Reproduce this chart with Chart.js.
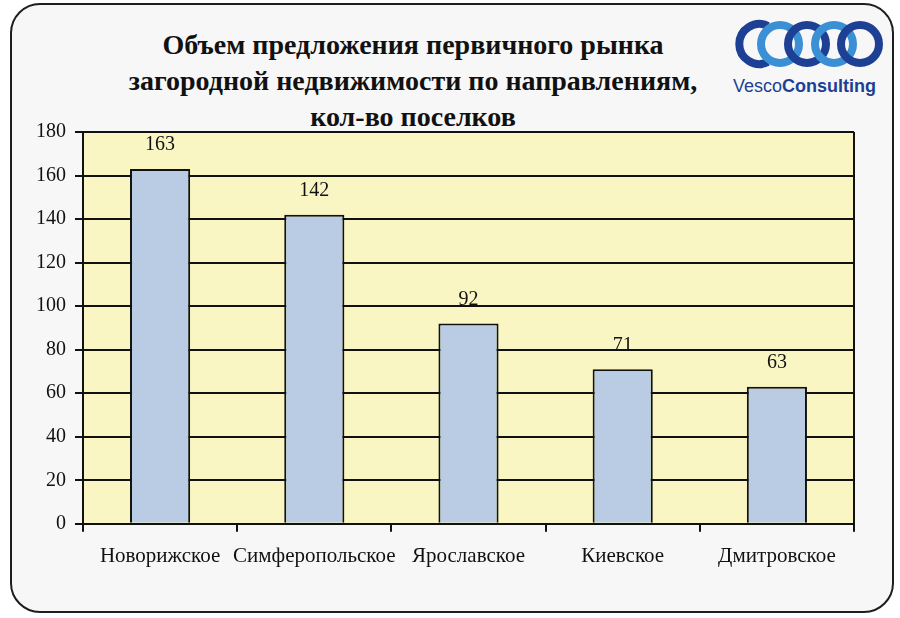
<!DOCTYPE html>
<html>
<head>
<meta charset="utf-8">
<script src="https://cdn.jsdelivr.net/npm/chart.js@4.4.0/dist/chart.umd.min.js"></script>
<style>
  html, body { margin: 0; padding: 0; background: #fff; }
  #wrap { position: relative; width: 900px; height: 618px; overflow: hidden; }
  #frame {
    position: absolute; left: 10px; top: 3px; width: 880px; height: 606px;
    border: 2px solid #1e1e1e; border-radius: 30px; background: #f7f7f7;
  }
  #title {
    position: absolute; left: 63px; width: 700px; top: 27px;
    text-align: center; font: bold 28px "Liberation Serif", serif; line-height: 36px; color: #111;
  }
  #logo { position: absolute; left: 728px; top: 16px; }
  canvas { position: absolute; left: 0; top: 0; }
</style>
</head>
<body>
<div id="wrap">
  <div id="frame"></div>
  <div id="title">Объем предложения первичного рынка<br>загородной недвижимости по направлениям,<br>кол-во поселков</div>
  <svg id="logo" width="160" height="80" viewBox="0 0 160 80">
    <g fill="none" stroke-width="8">
      <path d="M40 10 A20 20 0 1 0 40 46" stroke="#1d3f94"/>
      <circle cx="52" cy="28" r="19" stroke="#3b8fd4"/>
      <circle cx="79" cy="28" r="19" stroke="#1d3f94"/>
      <circle cx="106" cy="28" r="19" stroke="#3b8fd4"/>
      <circle cx="132" cy="28" r="19" stroke="#1d3f94"/>
    </g>
    <text x="5" y="76" font-family="Liberation Sans, Arial, sans-serif" font-size="18" fill="#1d3f94">Vesco<tspan font-weight="bold">Consulting</tspan></text>
  </svg>
  <canvas id="chart" width="900" height="618"></canvas>
</div>
<script>
const categories = ["Новорижское", "Симферопольское", "Ярославское", "Киевское", "Дмитровское"];
const settlements = [163, 142, 92, 71, 63];
const yTicks = [0, 20, 40, 60, 80, 100, 120, 140, 160, 180];

const serif = "'Liberation Serif', 'Times New Roman', serif";

const plotFrame = {
  id: 'plotFrame',
  beforeDraw(chart) {
    const a = chart.chartArea, ctx = chart.ctx;
    ctx.save();
    ctx.fillStyle = '#faf6c4';
    ctx.fillRect(a.left, a.top, a.right - a.left, a.bottom - a.top);
    ctx.restore();
  },
  afterDraw(chart) {
    const a = chart.chartArea, ctx = chart.ctx;
    ctx.save();
    ctx.strokeStyle = '#111';
    ctx.lineWidth = 2;
    ctx.beginPath();
    ctx.moveTo(a.right, a.top);
    ctx.lineTo(a.right, a.bottom);
    ctx.stroke();
    ctx.restore();
  }
};

const valueLabels = {
  id: 'valueLabels',
  afterDatasetsDraw(chart) {
    const ctx = chart.ctx;
    const meta = chart.getDatasetMeta(0);
    ctx.save();
    ctx.font = '20px ' + serif;
    ctx.fillStyle = '#111';
    ctx.textAlign = 'center';
    ctx.textBaseline = 'bottom';
    meta.data.forEach((bar, i) => {
      ctx.fillText(String(settlements[i]), bar.x, bar.y - 14);
    });
    ctx.restore();
  }
};

new Chart(document.getElementById('chart'), {
  type: 'bar',
  data: {
    labels: categories,
    datasets: [{
      data: settlements,
      backgroundColor: '#b9cce4',
      borderColor: '#111',
      borderWidth: 2,
      barPercentage: 0.78,
      categoryPercentage: 0.5
    }]
  },
  options: {
    responsive: false,
    animation: false,
    layout: { padding: { left: 27, right: 46, top: 132, bottom: 37 } },
    plugins: { legend: { display: false }, tooltip: { enabled: false }, title: { display: false } },
    scales: {
      x: {
        offset: true,
        grid: { offset: true, drawOnChartArea: false, drawTicks: true, tickLength: 8, color: '#111', lineWidth: 2 },
        border: { color: '#111', width: 2 },
        ticks: { color: '#111', font: { family: serif, size: 21 }, padding: 12, maxRotation: 0, autoSkip: false }
      },
      y: {
        min: 0, max: 180,
        afterBuildTicks(axis) { axis.ticks = yTicks.map(v => ({ value: v })); },
        grid: { color: '#111', lineWidth: 2, tickLength: 8, drawTicks: true },
        border: { color: '#111', width: 2 },
        ticks: { color: '#111', font: { family: serif, size: 20 }, padding: 9 }
      }
    }
  },
  plugins: [plotFrame, valueLabels]
});
</script>
</body>
</html>
